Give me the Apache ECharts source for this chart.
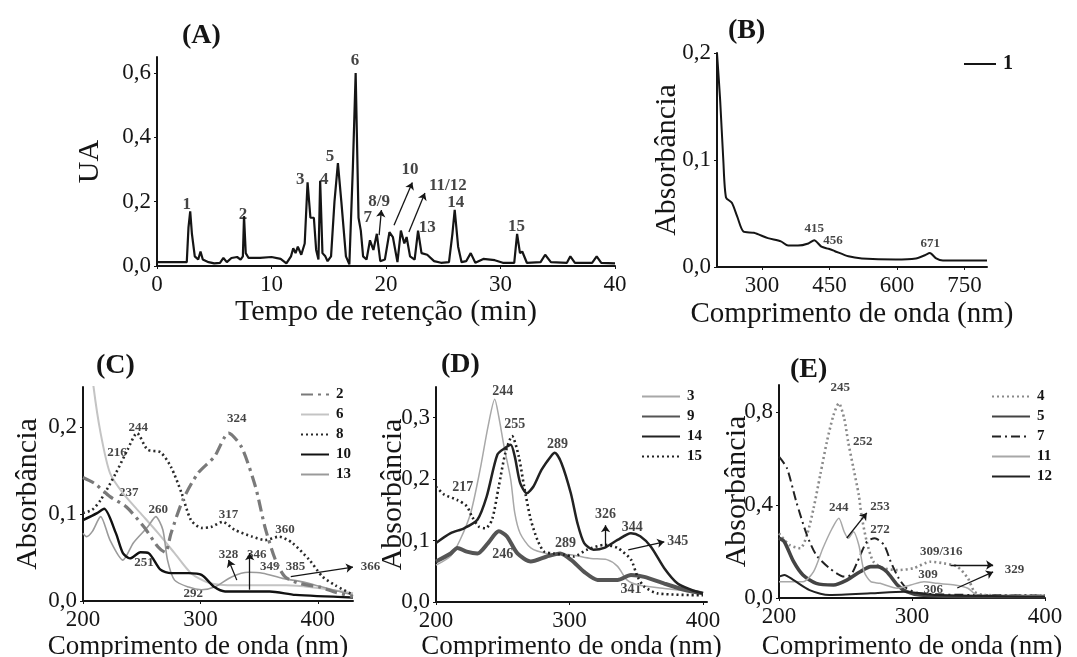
<!DOCTYPE html>
<html>
<head>
<meta charset="utf-8">
<script src="https://cdn.jsdelivr.net/npm/echarts@6.0.0/dist/echarts.min.js"></script>
<style>
  html, body { margin: 0; padding: 0; background: #fff; }
  #chart { width: 1077px; height: 657px; }
</style>
</head>
<body>
<div id="chart"></div>
<script>
// ---- (A) chromatogram ----
const tempoMin = [0, 2.6, 2.75, 2.9, 3.05, 3.3, 3.6, 3.8, 4.0, 4.5, 5.0, 5.5, 5.8, 6.1, 6.5, 7.0, 7.3, 7.5, 7.6, 7.75,
  8.0, 9.0, 10.0, 10.8, 11.3, 11.7, 11.9, 12.1, 12.3, 12.6, 12.9, 13.15, 13.4, 13.7, 13.9, 14.1, 14.25, 14.45, 14.7, 14.9,
  15.2, 15.5, 15.8, 16.1, 16.5, 16.8, 17.1, 17.35, 17.6, 17.8, 18.0, 18.3, 18.6, 18.9, 19.2, 19.5, 19.9, 20.3, 20.6, 21.0,
  21.3, 21.6, 21.8, 22.1, 22.5, 22.8, 23.1, 23.6, 24.2, 24.8, 25.5, 25.8, 26.0, 26.3, 26.6, 27.0, 27.4, 27.8, 28.5, 29.5,
  30.2, 31.2, 31.45, 31.7, 31.9, 32.3, 33.5, 33.9, 34.4, 35.8, 36.1, 36.5, 38.0, 38.4, 38.8, 40];
const ua = [0.012, 0.012, 0.12, 0.17, 0.10, 0.03, 0.02, 0.045, 0.02, 0.012, 0.008, 0.01, 0.025, 0.012, 0.025, 0.028, 0.02, 0.03, 0.155, 0.04,
  0.025, 0.025, 0.028, 0.022, 0.008, 0.03, 0.055, 0.04, 0.06, 0.035, 0.07, 0.26, 0.15, 0.15, 0.05, 0.02, 0.265, 0.04, 0.03, 0.015,
  0.03, 0.2, 0.32, 0.2, 0.03, 0.005, 0.3, 0.6, 0.15, 0.11, 0.03, 0.02, 0.08, 0.05, 0.10, 0.015, 0.02, 0.105, 0.09, 0.012,
  0.11, 0.07, 0.09, 0.03, 0.02, 0.11, 0.04, 0.035, 0.015, 0.01, 0.012, 0.1, 0.175, 0.06, 0.012, 0.015, 0.04, 0.01, 0.022, 0.018,
  0.01, 0.01, 0.1, 0.04, 0.045, 0.01, 0.012, 0.035, 0.012, 0.01, 0.03, 0.01, 0.01, 0.03, 0.01, 0.008];
const peakLabels = [[2.6, 0.19, '1'], [7.5, 0.16, '2'], [12.5, 0.27, '3'], [14.6, 0.27, '4'], [15.1, 0.34, '5'],
  [17.3, 0.64, '6'], [18.4, 0.15, '7'], [19.4, 0.2, '8/9'], [22.1, 0.30, '10'], [25.4, 0.25, '11/12'],
  [23.6, 0.12, '13'], [26.1, 0.196, '14'], [31.4, 0.124, '15']];
const peakArrows = [[19.4, 0.096, 19.6, 0.174], [20.7, 0.127, 22.3, 0.26], [22.0, 0.106, 23.4, 0.227]];

// ---- (B) spectrum of peak 1 ----
const wlB1 = [200, 207, 214, 220, 233, 245, 259, 282, 313, 342, 358, 380, 403, 416, 432, 448, 461, 492, 522, 597, 642, 662, 673, 687, 702, 800];
const absB1 = [0.2, 0.156, 0.10, 0.065, 0.06, 0.047, 0.033, 0.032, 0.027, 0.024, 0.02, 0.02, 0.022, 0.025, 0.019, 0.017, 0.015, 0.01, 0.008, 0.007, 0.008, 0.011, 0.013, 0.008, 0.006, 0.006];
const notesB = [[416, 0.036, '415'], [458, 0.025, '456'], [674, 0.022, '671']];

// ---- (C) spectra 2, 6, 8, 10, 13 ----
const wlC2 = [200, 210, 223, 237, 252, 264, 270, 275, 285, 298, 312, 324, 335, 347, 355, 364, 372, 385, 402, 415, 430];
const absC2 = [0.142, 0.135, 0.12, 0.108, 0.085, 0.062, 0.056, 0.078, 0.116, 0.147, 0.166, 0.193, 0.177, 0.131, 0.085, 0.047, 0.028, 0.02, 0.016, 0.01, 0.005];
const wlC6 = [200, 205, 209, 215, 223, 234, 249, 264, 278, 292, 307, 330, 373, 430];
const absC6 = [0.40, 0.30, 0.246, 0.193, 0.147, 0.124, 0.101, 0.078, 0.055, 0.032, 0.021, 0.018, 0.018, 0.009];
const wlC8 = [200, 208, 215, 228, 238, 246, 255, 266, 275, 284, 292, 301, 309, 319, 329, 344, 355, 367, 378, 393, 404, 415, 430];
const absC8 = [0.101, 0.105, 0.116, 0.147, 0.174, 0.193, 0.174, 0.171, 0.154, 0.124, 0.093, 0.084, 0.085, 0.091, 0.082, 0.074, 0.07, 0.074, 0.067, 0.047, 0.028, 0.018, 0.007];
const wlC10 = [200, 212, 218, 228, 234, 240, 249, 256, 266, 275, 290, 301, 312, 321, 359, 381, 430];
const absC10 = [0.093, 0.101, 0.106, 0.078, 0.055, 0.049, 0.056, 0.055, 0.036, 0.032, 0.032, 0.030, 0.016, 0.011, 0.011, 0.007, 0.004];
const wlC13 = [200, 203, 208, 215, 223, 234, 243, 255, 262, 268, 272, 278, 290, 301, 312, 327, 341, 353, 370, 387, 404, 430];
const absC13 = [0.078, 0.074, 0.08, 0.097, 0.07, 0.047, 0.067, 0.085, 0.097, 0.082, 0.047, 0.024, 0.016, 0.013, 0.016, 0.028, 0.033, 0.032, 0.026, 0.022, 0.016, 0.007];
const notesC = [[247, 0.199, '244'], [229, 0.170, '216'], [239, 0.125, '237'], [264, 0.105, '260'], [324, 0.099, '317'],
  [331, 0.21, '324'], [372, 0.082, '360'], [324, 0.053, '328'], [348, 0.053, '346'], [359, 0.039, '349'],
  [381, 0.039, '385'], [252, 0.044, '251'], [294, 0.009, '292'], [445, 0.04, '366']];
const arrowsC = [[331, 0.024, 324, 0.047], [342, 0.013, 342, 0.055], [377, 0.028, 430, 0.039]];

// ---- (D) spectra 3, 9, 14, 15 ----
const wlD3 = [200, 211, 218, 226, 233, 239, 244, 247, 251, 256, 259, 263, 271, 283, 301, 316, 328, 336, 343, 351, 371, 393, 400];
const absD3 = [0.06, 0.075, 0.101, 0.145, 0.215, 0.286, 0.33, 0.302, 0.253, 0.199, 0.145, 0.112, 0.088, 0.079, 0.077, 0.071, 0.069, 0.058, 0.036, 0.028, 0.022, 0.017, 0.014];
const wlD9 = [200, 211, 216, 223, 231, 239, 247, 253, 261, 271, 283, 293, 301, 311, 321, 336, 346, 356, 371, 386, 400];
const absD9 = [0.066, 0.079, 0.088, 0.082, 0.079, 0.096, 0.115, 0.107, 0.079, 0.066, 0.074, 0.079, 0.069, 0.049, 0.036, 0.036, 0.044, 0.041, 0.03, 0.02, 0.014];
const wlD14 = [200, 211, 221, 231, 238, 246, 252, 256, 259, 263, 268, 273, 279, 286, 289, 294, 301, 306, 311, 318, 326, 336, 346, 353, 361, 371, 381, 391, 400];
const absD14 = [0.096, 0.112, 0.12, 0.134, 0.172, 0.24, 0.251, 0.256, 0.237, 0.194, 0.177, 0.188, 0.215, 0.237, 0.243, 0.226, 0.177, 0.128, 0.096, 0.085, 0.088, 0.101, 0.112, 0.107, 0.09, 0.055, 0.03, 0.02, 0.014];
const wlD15 = [200, 206, 216, 223, 227, 232, 237, 242, 247, 252, 257, 262, 266, 271, 276, 281, 288, 296, 303, 313, 326, 336, 346, 351, 356, 366, 400];
const absD15 = [0.188, 0.175, 0.166, 0.156, 0.139, 0.123, 0.12, 0.134, 0.188, 0.243, 0.27, 0.237, 0.188, 0.134, 0.101, 0.082, 0.079, 0.077, 0.074, 0.085, 0.093, 0.088, 0.069, 0.041, 0.025, 0.014, 0.011];
const notesD = [[250, 0.343, '244'], [259, 0.289, '255'], [291, 0.256, '289'], [220, 0.186, '217'], [250, 0.077, '246'],
  [297, 0.096, '289'], [327, 0.142, '326'], [347, 0.122, '344'], [381, 0.098, '345'], [346, 0.02, '341']];
const arrowsD = [[327, 0.09, 327, 0.125], [344, 0.085, 371, 0.098]];

// ---- (E) spectra 4, 5, 7, 11, 12 ----
const wlE4 = [200, 208, 216, 221, 226, 231, 236, 241, 245, 249, 252, 256, 260, 262, 266, 271, 279, 289, 301, 314, 324, 334, 342, 347, 354, 400];
const absE4 = [0.278, 0.228, 0.214, 0.271, 0.386, 0.529, 0.672, 0.787, 0.837, 0.773, 0.672, 0.558, 0.443, 0.357, 0.242, 0.156, 0.128, 0.12, 0.128, 0.156, 0.149, 0.135, 0.085, 0.027, 0.013, 0.01];
const wlE5 = [200, 204, 211, 218, 228, 241, 251, 261, 269, 274, 281, 289, 296, 306, 344, 400];
const absE5 = [0.257, 0.242, 0.156, 0.099, 0.063, 0.056, 0.077, 0.113, 0.135, 0.135, 0.113, 0.056, 0.027, 0.013, 0.006, 0.006];
const wlE7 = [200, 206, 213, 221, 228, 238, 249, 254, 259, 266, 272, 279, 284, 290, 296, 306, 344, 400];
const absE7 = [0.608, 0.558, 0.414, 0.271, 0.185, 0.128, 0.092, 0.099, 0.156, 0.242, 0.257, 0.228, 0.156, 0.085, 0.042, 0.02, 0.013, 0.01];
const wlE11 = [200, 218, 226, 233, 240, 245, 249, 252, 256, 260, 264, 269, 276, 289, 299, 309, 319, 332, 342, 349, 400];
const absE11 = [0.07, 0.07, 0.113, 0.214, 0.3, 0.343, 0.285, 0.257, 0.285, 0.228, 0.113, 0.07, 0.063, 0.042, 0.056, 0.07, 0.063, 0.056, 0.042, 0.013, 0.01];
const wlE12 = [200, 204, 211, 223, 238, 269, 294, 319, 400];
const absE12 = [0.092, 0.099, 0.077, 0.034, 0.013, 0.02, 0.027, 0.013, 0.006];
const notesE = [[246, 0.903, '245'], [263, 0.671, '252'], [245, 0.387, '244'], [276, 0.391, '253'], [276, 0.292, '272'],
  [322, 0.198, '309/316'], [377, 0.12, '329'], [312, 0.099, '309'], [316, 0.034, '306']];
const arrowsE = [[251, 0.258, 266, 0.366], [329, 0.142, 361, 0.142], [334, 0.043, 361, 0.112]];

const FONT = '"Liberation Serif", "DejaVu Serif", serif';
const INK = '#151515';

const zip = (xs, ys) => xs.map((x, i) => [x, ys[i]]);
const comma = v => v.toFixed(1).replace('.', ',');

function xAxis(gi, min, max, ticks, name, nameSize, nameGap, pad) {
  return {
    type: 'value', gridIndex: gi, min: min, max: max,
    name: name, nameLocation: 'middle', nameGap: nameGap, nameMoveOverlap: false,
    nameTextStyle: { fontFamily: FONT, fontSize: nameSize, color: INK, padding: pad || 0 },
    axisLine: { show: true, onZero: false, lineStyle: { color: INK, width: 2 } },
    axisTick: { show: true, length: 3, customValues: ticks, lineStyle: { color: INK } },
    axisLabel: { customValues: ticks, fontFamily: FONT, fontSize: 23, color: INK, margin: 7 },
    splitLine: { show: false }
  };
}

// the original lets some y titles run over the tick labels, so no overlap shifting
function yAxis(gi, max, ticks, name, nameSize, nameGap) {
  return {
    type: 'value', gridIndex: gi, min: 0, max: max,
    name: name, nameLocation: 'middle', nameGap: nameGap, nameMoveOverlap: false,
    nameTextStyle: { fontFamily: FONT, fontSize: nameSize, color: INK },
    axisLine: { show: true, onZero: false, lineStyle: { color: INK, width: 2 } },
    axisTick: { show: true, length: 3, customValues: ticks, lineStyle: { color: INK } },
    axisLabel: { customValues: ticks, formatter: comma, fontFamily: FONT, fontSize: 23, color: INK, margin: 6 },
    splitLine: { show: false }
  };
}

function curve(name, gi, xs, ys, color, width, type, smooth) {
  return {
    name: name, type: 'line', xAxisIndex: gi, yAxisIndex: gi,
    data: zip(xs, ys), symbol: 'none', smooth: smooth === undefined ? 0.25 : smooth,
    lineStyle: { color: color, width: width, type: type || 'solid' },
    itemStyle: { color: color },
    silent: true
  };
}

function notes(gi, list, arrows, size) {
  return {
    type: 'scatter', xAxisIndex: gi, yAxisIndex: gi, clip: false, silent: true,
    symbolSize: 0, data: list,
    label: {
      show: true, position: 'inside', formatter: p => p.value[2],
      fontFamily: FONT, fontSize: size, fontWeight: 'bold', color: INK
    },
    markLine: {
      silent: true, symbol: ['none', 'arrow'], symbolSize: 7, animation: false,
      label: { show: false },
      lineStyle: { color: INK, width: 1.3, type: 'solid' },
      data: arrows.map(a => [{ coord: [a[0], a[1]] }, { coord: [a[2], a[3]] }])
    }
  };
}

// legend with only the line sample, no symbol in its middle
function legend(names, left, top, w, size) {
  return {
    data: names, left: left, top: top, orient: 'vertical', padding: 0,
    itemWidth: w, itemHeight: 10, itemGap: 5, selectedMode: false,
    itemStyle: { opacity: 0 },
    textStyle: { fontFamily: FONT, fontSize: size, fontWeight: 'bold', color: INK, padding: [0, 0, 0, 2] }
  };
}

const panelTitle = (text, left, top) => ({
  text: text, left: left, top: top, padding: 0,
  textStyle: { fontFamily: FONT, fontSize: 28, fontWeight: 'bold', color: INK }
});

const chart = echarts.init(document.getElementById('chart'), null, { renderer: 'canvas' });

const option = {
  backgroundColor: '#fff',
  animation: false,
  title: [
    panelTitle('(A)', 182, 22),
    panelTitle('(B)', 728, 17),
    panelTitle('(C)', 96, 352),
    panelTitle('(D)', 441, 351),
    panelTitle('(E)', 790, 356)
  ],
  grid: [
    { left: 157, top: 57, width: 458, height: 209, outerBoundsMode: 'none' },
    { left: 717, top: 53, width: 270, height: 214, outerBoundsMode: 'none' },
    { left: 83, top: 387, width: 270, height: 214, outerBoundsMode: 'none' },
    { left: 436, top: 387, width: 271, height: 215, outerBoundsMode: 'none' },
    { left: 779, top: 385, width: 266, height: 213, outerBoundsMode: 'none' }
  ],
  xAxis: [
    xAxis(0, 0, 40, [0, 10, 20, 30, 40], 'Tempo de retenção (min)', 30, 31),
    xAxis(1, 200, 800, [300, 450, 600, 750], 'Comprimento de onda (nm)', 29, 33),
    xAxis(2, 200, 430, [200, 300, 400], 'Comprimento de onda (nm)', 27, 32, [0, 40, 0, 0]),
    xAxis(3, 200, 403, [200, 300, 400], 'Comprimento de onda (nm)', 27, 31),
    xAxis(4, 200, 400, [200, 300, 400], 'Comprimento de onda (nm)', 27, 35)
  ],
  yAxis: [
    yAxis(0, 0.65, [0, 0.2, 0.4, 0.6], 'UA', 30, 52),
    yAxis(1, 0.2, [0, 0.1, 0.2], 'Absorbância', 30, 35),
    yAxis(2, 0.246, [0, 0.1, 0.2], 'Absorbância', 30, 40),
    yAxis(3, 0.35, [0, 0.1, 0.2, 0.3], 'Absorbância', 30, 28),
    yAxis(4, 0.916, [0, 0.4, 0.8], 'Absorbância', 30, 27)
  ],
  legend: [
    legend(['1'], 963, 54, 32, 20),
    legend(['2', '6', '8', '10', '13'], 300, 387, 28, 15),
    legend(['3', '9', '14', '15'], 641, 389, 38, 15),
    legend(['4', '5', '7', '11', '12'], 991, 389, 38, 15)
  ],
  series: [
    curve('A', 0, tempoMin, ua, INK, 2.2, 'solid', false),
    notes(0, peakLabels, peakArrows, 17),

    curve('1', 1, wlB1, absB1, INK, 2),
    notes(1, notesB, [], 13),

    curve('6', 2, wlC6, absC6, '#c4c4c4', 2),
    curve('13', 2, wlC13, absC13, '#9a9a9a', 1.6),
    curve('10', 2, wlC10, absC10, '#111', 2.4),
    curve('8', 2, wlC8, absC8, '#2a2a2a', 2.6, [2, 3]),
    curve('2', 2, wlC2, absC2, '#7a7a7a', 3.2, [12, 5, 3, 5]),
    notes(2, notesC, arrowsC, 13),

    curve('3', 3, wlD3, absD3, '#a8a8a8', 1.5),
    curve('9', 3, wlD9, absD9, '#555', 4),
    curve('14', 3, wlD14, absD14, '#222', 2.5),
    curve('15', 3, wlD15, absD15, '#222', 2.6, [2, 3]),
    notes(3, notesD, arrowsD, 14),

    curve('4', 4, wlE4, absE4, '#8a8a8a', 2.6, [2, 3]),
    curve('5', 4, wlE5, absE5, '#444', 3.6),
    curve('7', 4, wlE7, absE7, '#222', 2, [9, 4, 2, 4]),
    curve('11', 4, wlE11, absE11, '#a8a8a8', 1.5),
    curve('12', 4, wlE12, absE12, '#222', 2),
    notes(4, notesE, arrowsE, 13)
  ]
};

chart.setOption(option);
</script>
</body>
</html>
